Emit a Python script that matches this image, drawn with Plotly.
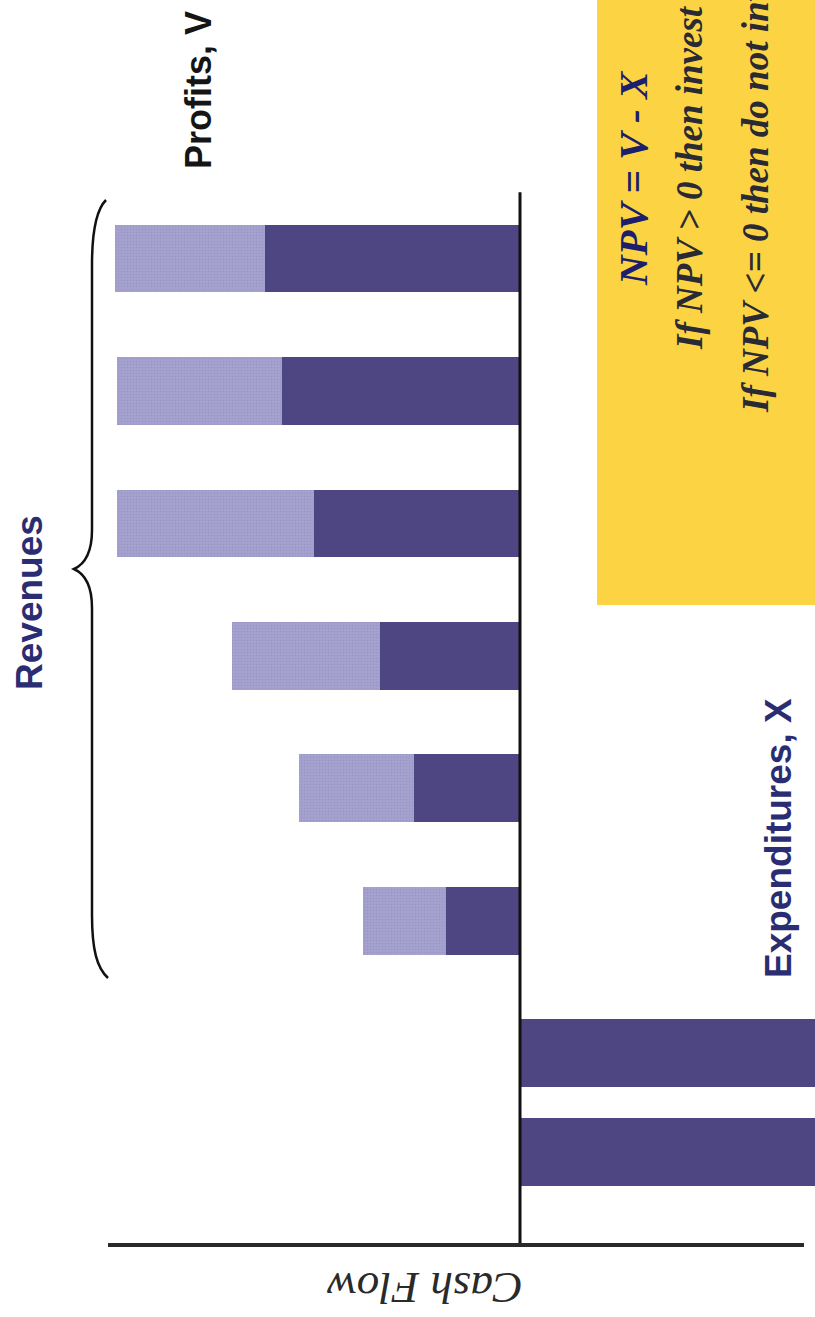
import plotly.graph_objects as go

# Cash-flow profile of a project (time runs bottom -> top, cash flow runs right -> left)
revenue_periods = [2, 3, 4, 5, 6, 7]
profits = [7.4, 10.6, 14.0, 20.6, 23.8, 25.5]          # darker segment next to the time axis
operating_costs = [8.3, 11.5, 14.8, 19.7, 16.5, 15.0]  # lighter outer segment
expenditure_periods = [0.26, 1]
expenditures = [-40, -40]

W, H = 815, 1317
DARK = "#4e4583"
LIGHT = "#a6a2cf"
NAVY = "#2b2d72"


def px(x):
    return x / W


def py(y):
    return 1 - y / H


fig = go.Figure()
fig.add_trace(go.Bar(orientation="h", y=revenue_periods, x=profits, width=0.513,
                     marker=dict(color=DARK, line=dict(width=0)), name="Profits"))
fig.add_trace(go.Bar(orientation="h", y=revenue_periods, x=operating_costs, width=0.513,
                     marker=dict(color=LIGHT, line=dict(width=0),
                                 pattern=dict(shape=".", fgcolor="#8f8abf", bgcolor=LIGHT,
                                              size=3, solidity=0.35)),
                     name="Costs"))
fig.add_trace(go.Bar(orientation="h", y=expenditure_periods, x=expenditures, width=0.513,
                     marker=dict(color=DARK, line=dict(width=0)), name="Expenditures"))

shapes = [
    # decision box
    dict(type="rect", xref="paper", yref="paper", x0=px(597), x1=px(830), y0=py(605), y1=py(-20),
         fillcolor="#fcd443", line=dict(width=0), layer="below"),
    # time axis
    dict(type="line", xref="x", yref="y", x0=0, x1=0, y0=-0.445, y1=7.5,
         line=dict(color="#111111", width=3), layer="above"),
    # cash-flow axis
    dict(type="line", xref="x", yref="y", x0=41.2, x1=-28.4, y0=-0.445, y1=-0.445,
         line=dict(color="#2a2a2a", width=4), layer="above"),
]

# curly brace grouping the revenue bars
pts = [("M", [(106, 200)]),
       ("C", [(96, 210), (92, 232), (92, 265)]),
       ("L", [(92, 530)]),
       ("C", [(92, 553), (85, 564), (74, 569)]),
       ("C", [(85, 574), (92, 585), (92, 608)]),
       ("L", [(92, 915)]),
       ("C", [(92, 950), (97, 968), (108, 978)])]
path = " ".join(cmd + " " + " ".join(f"{px(x):.5f},{py(y):.5f}" for x, y in p) for cmd, p in pts)
shapes.append(dict(type="path", xref="paper", yref="paper", path=path,
                   line=dict(color="#111111", width=2.5)))

sans = "Liberation Sans, Arial, sans-serif"
serif = "Liberation Serif, Times New Roman, serif"
annotations = [
    dict(text="<b>Revenues</b>", x=px(29), y=py(603), textangle=-90,
         font=dict(family=sans, size=37, color=NAVY)),
    dict(text="<b>Profits, V</b>", x=px(198), y=py(90), textangle=-90,
         font=dict(family=sans, size=36, color="#151515")),
    dict(text="<b>Expenditures, X</b>", x=px(779), y=py(838), textangle=-90,
         font=dict(family=sans, size=37, color=NAVY)),
    dict(text="<b><i>NPV = V - X</i></b>", x=px(633), y=py(178), textangle=-90,
         font=dict(family=serif, size=41, color="#1d1e6c")),
    dict(text="<b><i>If NPV > 0 then invest</i></b>", x=px(689), y=py(178), textangle=-90,
         font=dict(family=serif, size=37, color="#2a2a35")),
    dict(text="<b><i>If NPV <= 0 then do not invest</i></b>", x=px(755), y=py(178), textangle=-90,
         font=dict(family=serif, size=37, color="#2a2a35")),
    dict(text="<i>Cash Flow</i>", x=px(425), y=py(1288), textangle=180,
         font=dict(family=serif, size=45, color="#2a2a2a")),
]
for a in annotations:
    a.update(xref="paper", yref="paper", showarrow=False, xanchor="center", yanchor="middle")

fig.update_layout(
    width=W, height=H,
    margin=dict(l=0, r=0, t=0, b=0),
    paper_bgcolor="white", plot_bgcolor="white",
    barmode="relative", bargap=0, showlegend=False,
    xaxis=dict(range=[52, -29.5], visible=False, fixedrange=True),
    yaxis=dict(range=[-0.989, 8.951], visible=False, fixedrange=True),
    shapes=shapes, annotations=annotations,
)

fig.write_html("out.html")
